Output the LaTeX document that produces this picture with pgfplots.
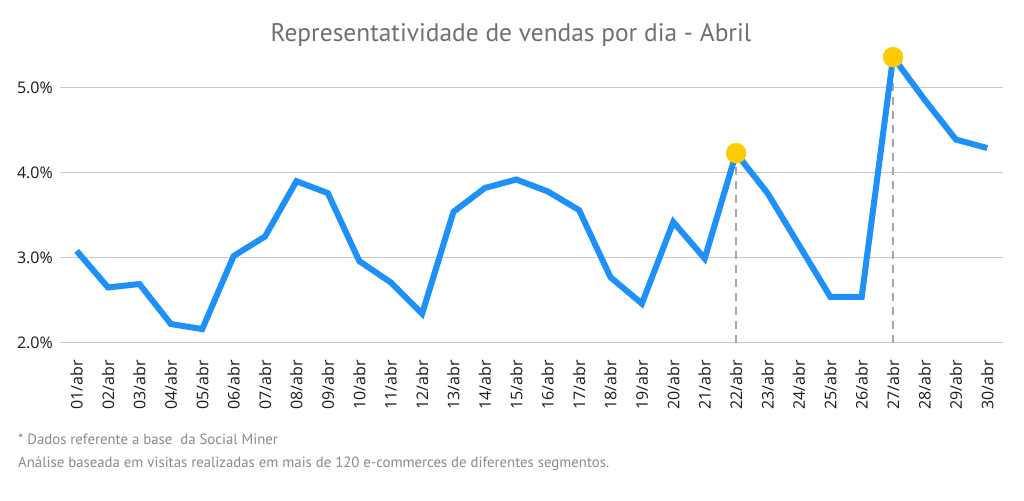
\documentclass[border=0pt]{standalone}
\usepackage{pgfplots}
\pgfplotsset{compat=1.18}
\usepackage{fontspec}
\setmainfont{Open Sans}
\newfontfamily\ptsans{PT Sans}
\definecolor{lineblue}{HTML}{1E90FA}
\definecolor{dotyellow}{HTML}{FFCC00}
\definecolor{gridgray}{HTML}{C8C8C8}
\definecolor{titlegray}{HTML}{707070}
\definecolor{notegray}{HTML}{8A8A8A}
\definecolor{tickdark}{HTML}{1A1A1A}
\begin{document}
\begin{tikzpicture}[x=1pt,y=1pt]
\path[use as bounding box, fill=white] (0,0) rectangle (1024,500);
\begin{axis}[
  at={(60pt,157.3pt)}, anchor=south west,
  scale only axis, width=943pt, height=297.5pt,
  xmin=0.47, xmax=30.5, ymin=2, ymax=5.5,
  axis line style={draw=none},
  ymajorgrids, grid style={gridgray, line width=1.6pt},
  ytick={2,3,4,5},
  xtick={1,...,30},
  xticklabels={01/abr,02/abr,03/abr,04/abr,05/abr,06/abr,07/abr,08/abr,09/abr,10/abr,11/abr,12/abr,13/abr,14/abr,15/abr,16/abr,17/abr,18/abr,19/abr,20/abr,21/abr,22/abr,23/abr,24/abr,25/abr,26/abr,27/abr,28/abr,29/abr,30/abr},
  x tick label style={rotate=90, anchor=east, font=\fontsize{16}{18}\selectfont, text=tickdark, xshift=-17pt, inner sep=0pt},
  y tick label style={font=\fontsize{16}{18}\selectfont, text=tickdark, anchor=east, xshift=-7pt, inner sep=0pt},
  yticklabel={\pgfmathprintnumber[fixed,fixed zerofill,precision=1]{\tick}\%},
  /pgf/number format/assume math mode=true,
  major tick length=0pt,
  clip=false,
]
\addplot[draw=gray!70, line width=2pt, dash pattern=on 8pt off 6pt] coordinates {(22,2) (22,4.23)};
\addplot[draw=gray!70, line width=2pt, dash pattern=on 8pt off 6pt] coordinates {(27,2) (27,5.36)};
\addplot[lineblue, line width=6pt, line join=miter, miter limit=3] coordinates {
(1,3.08) (2,2.65) (3,2.69) (4,2.22) (5,2.16) (6,3.02) (7,3.25) (8,3.90) (9,3.76) (10,2.96)
(11,2.71) (12,2.34) (13,3.54) (14,3.82) (15,3.92) (16,3.78) (17,3.56) (18,2.77) (19,2.46) (20,3.42)
(21,2.99) (22,4.23) (23,3.76) (24,3.15) (25,2.54) (26,2.54) (27,5.36) (28,4.86) (29,4.39) (30,4.29)};
\addplot[only marks, mark=*, mark size=10pt, color=dotyellow, mark options={fill=dotyellow, draw=dotyellow}] coordinates {(22,4.23) (27,5.36)};
\end{axis}
\node[text=titlegray, font=\ptsans\fontsize{25.4}{28}\selectfont, anchor=base] at (511,458) {Representatividade de vendas por dia - Abril};
\node[text=notegray, font=\ptsans\fontsize{14.8}{16}\selectfont, anchor=base west, inner sep=0pt] at (18,55) {* Dados referente a base\ \ da Social Miner};
\node[text=notegray, font=\ptsans\fontsize{14.8}{16}\selectfont, anchor=base west, inner sep=0pt] at (18,32) {Análise baseada em visitas realizadas em mais de 120 e-commerces de diferentes segmentos.};
\end{tikzpicture}
\end{document}
